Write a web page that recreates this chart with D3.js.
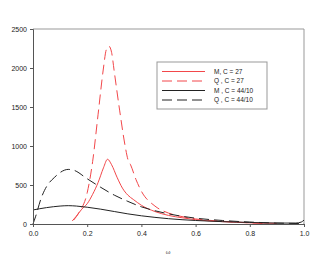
<!DOCTYPE html>
<html>
<head>
<meta charset="utf-8">
<script src="https://cdn.jsdelivr.net/npm/d3@7"></script>
<style>
body { margin: 0; background: #fff; }
text { font-family: "Liberation Sans", Arial, sans-serif; }
</style>
</head>
<body>
<div id="chart"></div>
<script>
const width = 320, height = 259;
const margin = {top: 29, right: 16, bottom: 35, left: 33};

// omega / value pairs
const redM = [[0.145,40],[0.16,100],[0.18,190],[0.2,260],[0.22,380],[0.24,530],[0.26,720],[0.275,830],[0.29,760],[0.31,600],[0.33,460],[0.35,370],[0.37,315],[0.40,240],[0.45,160],[0.5,110],[0.55,80],[0.6,55],[0.7,30],[0.8,15],[0.9,8]];
const redQ = [[0.15,50],[0.17,150],[0.2,400],[0.22,800],[0.24,1400],[0.26,2000],[0.27,2230],[0.28,2280],[0.29,2200],[0.30,1950],[0.32,1450],[0.34,1000],[0.35,830],[0.36,760],[0.38,570],[0.40,420],[0.45,230],[0.5,140],[0.55,95],[0.6,65],[0.7,35],[0.8,15],[0.85,5]];
const blackM = [[0,180],[0.05,210],[0.1,230],[0.13,235],[0.16,230],[0.2,215],[0.25,190],[0.3,160],[0.35,130],[0.4,105],[0.45,85],[0.5,68],[0.6,45],[0.7,30],[0.8,20],[0.9,12],[0.97,12],[0.99,25],[1.0,50]];
const blackQ = [[0.0,0],[0.01,100],[0.03,330],[0.05,480],[0.08,600],[0.1,660],[0.13,700],[0.15,690],[0.2,580],[0.25,470],[0.3,370],[0.35,290],[0.4,220],[0.45,170],[0.5,130],[0.6,75],[0.7,45],[0.8,25],[0.9,12],[1.0,5]];

const xTicks = [0, 0.2, 0.4, 0.6, 0.8, 1.0];
const yTicks = [0, 500, 1000, 1500, 2000, 2500];

const series = [
  {name: "M, C = 27", data: redM, color: "#f2474a", dash: null},
  {name: "Q , C = 27", data: redQ, color: "#f2474a", dash: "10,5"},
  {name: "M , C = 44/10", data: blackM, color: "#222", dash: null},
  {name: "Q , C = 44/10", data: blackQ, color: "#222", dash: "10,5"}
];

const innerW = width - margin.left - margin.right,
      innerH = height - margin.top - margin.bottom;

const svg = d3.select("#chart").append("svg")
  .attr("width", width).attr("height", height);
const g = svg.append("g").attr("transform", `translate(${margin.left},${margin.top})`);

const x = d3.scaleLinear().domain([0, 1]).range([0, innerW]);
const y = d3.scaleLinear().domain([0, 2500]).range([innerH, 0]);

// frame (top/right)
g.append("path")
  .attr("d", `M0,0H${innerW}V${innerH}`)
  .attr("fill", "none").attr("stroke", "#999").attr("stroke-width", 1);

const line = d3.line().x(d => x(d[0])).y(d => y(d[1])).curve(d3.curveMonotoneX);

g.selectAll(".series")
  .data(series)
  .enter().append("path")
  .attr("class", "series")
  .attr("d", d => line(d.data))
  .attr("fill", "none")
  .attr("stroke", d => d.color)
  .attr("stroke-width", 1)
  .attr("stroke-dasharray", d => d.dash);

const xAxis = g.append("g").attr("transform", `translate(0,${innerH})`)
  .call(d3.axisBottom(x).tickValues(xTicks).tickFormat(d3.format(".1f")).tickSize(3).tickPadding(4));
const yAxis = g.append("g")
  .call(d3.axisLeft(y).tickValues(yTicks).tickFormat(d3.format("d")).tickSize(3).tickPadding(3));
[xAxis, yAxis].forEach(a => {
  a.attr("font-size", 7).attr("font-family", "Liberation Sans, Arial, sans-serif");
  a.selectAll("text").attr("fill", "#222");
  a.selectAll("line").attr("stroke", "#555");
  a.select(".domain").attr("stroke", "#555");
});

svg.append("text")
  .attr("x", 168).attr("y", 254)
  .attr("font-size", 6).attr("fill", "#444")
  .attr("text-anchor", "middle")
  .text("ω");

// legend
const lg = svg.append("g").attr("transform", "translate(157,62)");
lg.append("rect").attr("width", 110).attr("height", 47)
  .attr("fill", "#fff").attr("stroke", "#999").attr("stroke-width", 1);
const item = lg.selectAll(".item").data(series).enter().append("g")
  .attr("transform", (d, i) => `translate(0,${9.5 + i * 9.5})`);
item.append("line").attr("x1", 5).attr("x2", 48)
  .attr("stroke", d => d.color).attr("stroke-width", 1)
  .attr("stroke-dasharray", d => d.dash);
item.append("text").attr("x", 57).attr("dy", "0.35em")
  .attr("font-size", 6.5).attr("fill", "#222")
  .text(d => d.name);
</script>
</body>
</html>
